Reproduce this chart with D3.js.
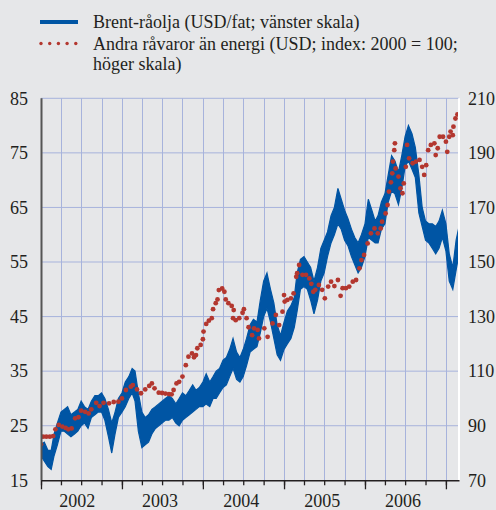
<!DOCTYPE html>
<html>
<head>
<meta charset="utf-8">
<script src="https://cdn.jsdelivr.net/npm/d3@7"></script>
<style>
  body { margin: 0; background: #e6e7e9; }
  svg { display: block; }
  text { font-family: "Liberation Serif", "Times New Roman", serif; fill: #231f20; }
</style>
</head>
<body>
<div id="chart"></div>
<script>
// Brent crude (USD/barrel), semi-monthly low / high envelope of the daily series
const brentDates = [
  "2002-01-01","2002-01-16","2002-02-01","2002-02-16","2002-03-01","2002-03-16","2002-04-01","2002-04-16","2002-05-01","2002-05-16","2002-06-01","2002-06-16",
  "2002-07-01","2002-07-16","2002-08-01","2002-08-16","2002-09-01","2002-09-16","2002-10-01","2002-10-16","2002-11-01","2002-11-16","2002-12-01","2002-12-16",
  "2003-01-01","2003-01-16","2003-02-01","2003-02-16","2003-03-01","2003-03-16","2003-04-01","2003-04-16","2003-05-01","2003-05-16","2003-06-01","2003-06-16",
  "2003-07-01","2003-07-16","2003-08-01","2003-08-16","2003-09-01","2003-09-16","2003-10-01","2003-10-16","2003-11-01","2003-11-16","2003-12-01","2003-12-16",
  "2004-01-01","2004-01-16","2004-02-01","2004-02-16","2004-03-01","2004-03-16","2004-04-01","2004-04-16","2004-05-01","2004-05-16","2004-06-01","2004-06-16",
  "2004-07-01","2004-07-16","2004-08-01","2004-08-16","2004-09-01","2004-09-16","2004-10-01","2004-10-16","2004-11-01","2004-11-16","2004-12-01","2004-12-16",
  "2005-01-01","2005-01-16","2005-02-01","2005-02-16","2005-03-01","2005-03-16","2005-04-01","2005-04-16","2005-05-01","2005-05-16","2005-06-01","2005-06-16",
  "2005-07-01","2005-07-16","2005-08-01","2005-08-16","2005-09-01","2005-09-16","2005-10-01","2005-10-16","2005-11-01","2005-11-16","2005-12-01","2005-12-16",
  "2006-01-01","2006-01-16","2006-02-01","2006-02-16","2006-03-01","2006-03-16","2006-04-01","2006-04-16","2006-05-01","2006-05-16","2006-06-01","2006-06-16",
  "2006-07-01","2006-07-16","2006-08-01","2006-08-16","2006-09-01","2006-09-16","2006-10-01","2006-10-16","2006-11-01","2006-11-16","2006-12-01","2006-12-16",
  "2007-01-01","2007-01-16","2007-02-01","2007-02-16","2007-03-01"
];
const brentLow = [
  19.5,18.5,17.5,17.0,19.5,21.5,24.0,24.0,23.5,23.0,23.5,24.0,25.0,25.5,24.5,26.5,27.0,27.5,27.5,26.0,23.0,20.0,23.5,26.5,
  27.5,28.5,30.0,31.0,29.5,24.0,21.0,21.5,22.0,23.5,24.5,25.0,25.5,26.0,26.0,26.5,25.5,25.0,26.0,26.5,27.0,27.5,28.0,28.5,
  28.5,29.0,28.5,30.0,30.0,31.0,32.0,32.5,34.0,35.5,33.5,33.0,34.0,36.0,38.5,39.0,39.5,42.0,45.0,46.5,44.0,41.0,38.0,37.0,
  39.0,40.0,41.0,43.0,46.0,50.0,50.5,50.0,48.0,45.5,48.0,51.5,53.0,56.0,58.5,60.0,62.0,61.0,59.0,58.0,56.0,54.5,53.0,54.0,
  56.0,59.5,59.0,58.5,58.5,61.0,62.0,66.0,68.0,67.5,65.5,68.5,72.5,73.5,72.0,70.5,64.0,61.5,59.0,58.5,57.5,56.5,57.5,59.5,
  57.0,51.5,50.0,53.5,56.5
];
const brentHigh = [
  21.5,22.0,20.5,20.5,23.5,25.5,27.5,28.0,28.5,27.0,27.5,28.0,29.5,28.5,28.0,29.5,30.5,30.5,31.0,30.0,28.0,25.5,27.5,30.0,
  31.0,33.0,34.0,35.5,35.0,31.0,27.5,26.5,27.0,28.0,28.5,29.0,29.5,30.0,30.5,30.0,29.0,30.0,31.0,30.5,31.5,32.5,31.5,32.0,
  33.0,34.5,33.0,34.0,35.0,35.5,37.0,37.5,39.0,41.0,38.5,37.5,39.0,41.0,43.5,44.5,44.0,48.0,51.5,53.0,50.0,47.5,43.5,41.5,
  44.0,46.0,47.0,48.5,53.0,55.5,56.0,55.0,54.0,51.5,54.0,57.5,59.0,60.5,63.5,65.0,68.5,66.5,64.5,63.0,61.0,59.5,58.5,60.0,
  62.0,66.5,64.5,62.5,63.5,66.0,67.5,71.0,74.5,73.5,71.5,74.5,78.0,80.0,78.5,76.0,71.0,65.0,62.5,62.0,62.0,61.5,62.5,64.5,
  62.0,56.5,54.0,59.0,61.5
];

// Non-energy commodities (USD; index 2000 = 100)
const indexDates = [
  "2002-01-01","2002-01-10","2002-01-25","2002-02-10","2002-02-25","2002-03-07","2002-03-22","2002-04-07","2002-04-22","2002-05-04",
  "2002-05-19","2002-06-04","2002-06-19","2002-07-01","2002-07-19","2002-08-04","2002-08-16","2002-09-07","2002-09-22","2002-10-10",
  "2002-11-04","2002-11-25","2002-12-16","2003-01-01","2003-01-19","2003-02-10","2003-02-19","2003-03-10","2003-03-28","2003-04-16",
  "2003-05-04","2003-05-16","2003-05-28","2003-06-16","2003-07-01","2003-07-16","2003-08-01","2003-08-13","2003-08-22","2003-09-04",
  "2003-09-16","2003-10-01","2003-10-16","2003-10-28","2003-11-13","2003-11-22","2003-12-01","2003-12-07","2003-12-22","2004-01-01",
  "2004-01-04","2004-01-16","2004-01-28","2004-02-10","2004-02-16","2004-02-28","2004-03-07","2004-03-13","2004-03-28","2004-04-07",
  "2004-04-13","2004-04-25","2004-05-10","2004-05-16","2004-05-19","2004-05-28","2004-06-13","2004-06-28","2004-07-04","2004-07-16",
  "2004-07-25","2004-08-10","2004-08-19","2004-09-04","2004-09-10","2004-10-04","2004-10-19","2004-11-10","2004-11-25","2004-12-10",
  "2004-12-25","2005-01-01","2005-01-04","2005-01-16","2005-02-01","2005-02-13","2005-02-25","2005-03-01","2005-03-10","2005-03-25",
  "2005-04-10","2005-04-25","2005-05-04","2005-05-13","2005-05-22","2005-06-07","2005-06-22","2005-07-04","2005-07-19","2005-08-01",
  "2005-08-16","2005-09-01","2005-09-13","2005-09-22","2005-10-07","2005-10-22","2005-11-07","2005-11-22","2005-12-07","2005-12-16",
  "2005-12-28","2006-01-13","2006-01-28","2006-02-13","2006-02-28","2006-03-13","2006-03-19","2006-04-04","2006-04-13","2006-04-19",
  "2006-04-28","2006-05-04","2006-05-07","2006-05-13","2006-05-16","2006-05-19","2006-06-01","2006-06-10","2006-06-19","2006-06-25",
  "2006-07-04","2006-07-10","2006-07-19","2006-08-04","2006-08-19","2006-09-04","2006-09-16","2006-09-25","2006-10-04","2006-10-13",
  "2006-10-25","2006-11-10","2006-11-16","2006-11-25","2006-12-04","2006-12-19","2007-01-01","2007-01-07","2007-01-16","2007-01-22",
  "2007-02-01","2007-02-04","2007-02-13","2007-02-22"
];
const indexValues = [
  83.2,86.0,86.0,86.0,86.2,88.7,90.3,89.7,89.2,88.7,
  89.0,92.7,93.1,95.5,95.1,94.5,96.0,98.4,97.2,98.4,
  98.2,98.7,98.8,100.0,103.1,104.3,104.9,103.3,101.9,103.3,
  104.6,105.5,103.7,102.1,102.0,101.8,101.6,101.5,103.1,105.5,
  106.1,108.0,112.2,115.3,116.5,115.1,115.9,118.4,119.6,121.7,
  124.5,127.3,128.5,129.4,132.7,134.9,136.3,139.7,140.3,139.1,
  136.3,134.9,133.9,129.4,132.4,128.7,129.4,131.4,132.7,129.4,
  126.1,123.2,125.7,125.1,122.0,125.7,122.6,127.5,130.6,126.9,
  131.8,137.9,135.5,136.1,136.7,138.5,144.6,145.9,148.9,145.3,
  145.3,144.0,142.0,139.1,139.8,141.6,139.8,136.7,141.0,142.8,
  141.2,143.4,137.6,140.4,140.4,141.0,142.8,143.4,147.7,150.7,
  152.6,156.8,160.5,162.3,160.5,162.3,164.8,167.8,170.9,175.8,
  179.2,182.5,186.8,191.0,193.5,184.3,181.3,177.0,175.2,178.8,
  184.9,192.9,188.0,186.2,186.8,187.4,184.9,181.9,185.5,191.0,
  192.9,193.5,189.2,191.7,195.9,195.9,194.1,190.4,195.9,197.8,
  196.5,199.6,202.6,204.1
];

const leftTicks = [15, 25, 35, 45, 55, 65, 75, 85];
const rightTicks = [70, 90, 110, 130, 150, 170, 190, 210];
const yearLabels = [2002, 2003, 2004, 2005, 2006];
const legendLabels = [
  ["Brent-råolja (USD/fat; vänster skala)"],
  ["Andra råvaror än energi (USD; index: 2000 = 100;", "höger skala)"]
];

const W = 496, H = 510;
const plotL = 41, plotR = 459, plotT = 98.3, plotB = 480.3;
const parse = d3.timeParse("%Y-%m-%d");

const x = d3.scaleTime()
  .domain([new Date(2002, 0, 1), new Date(2007, 2, 1)])
  .range([plotL, plotR]);
const yL = d3.scaleLinear().domain([15, 85]).range([plotB, plotT]);
const yR = d3.scaleLinear().domain([70, 210]).range([plotB, plotT]);

const brent = brentDates.map((d, i) => ({ date: parse(d), lo: brentLow[i], hi: brentHigh[i] }));
const index = indexDates.map((d, i) => ({ date: parse(d), v: indexValues[i] }));

const svg = d3.select('#chart').append('svg')
  .attr('width', W)
  .attr('height', H);

svg.append('rect').attr('width', W).attr('height', H).attr('fill', '#e6e7e9');

svg.append('clipPath').attr('id', 'plot')
  .append('rect')
  .attr('x', plotL).attr('y', plotT - 2)
  .attr('width', plotR - plotL).attr('height', plotB - plotT + 2);

// grid
const quarters = d3.timeMonth.every(3).range(new Date(2002, 3, 1), new Date(2007, 1, 1));
const grid = svg.append('g').attr('stroke', '#a7b3dc').attr('stroke-width', 1);
grid.selectAll('line.v').data(quarters).join('line')
  .attr('class', 'v')
  .attr('x1', d => Math.round(x(d)) + 0.5).attr('x2', d => Math.round(x(d)) + 0.5)
  .attr('y1', plotT).attr('y2', plotB);
grid.selectAll('line.h').data(leftTicks.filter(t => t > 15)).join('line')
  .attr('class', 'h')
  .attr('x1', plotL).attr('x2', plotR)
  .attr('y1', d => yL(d)).attr('y2', d => yL(d));

// series
const plot = svg.append('g').attr('clip-path', 'url(#plot)');
plot.append('path')
  .datum(brent)
  .attr('d', d3.area().x(d => x(d.date)).y0(d => yL(d.lo)).y1(d => yL(d.hi)))
  .attr('fill', '#0055a4')
  .attr('stroke', '#0055a4')
  .attr('stroke-width', 1.2)
  .attr('stroke-linejoin', 'miter');

plot.selectAll('circle').data(index).join('circle')
  .attr('cx', d => x(d.date))
  .attr('cy', d => yR(d.v))
  .attr('r', 2.4)
  .attr('fill', '#b3372f');

// axes frame
svg.append('line')
  .attr('x1', plotL + 0.5).attr('x2', plotL + 0.5)
  .attr('y1', plotT).attr('y2', plotB)
  .attr('stroke', '#555').attr('stroke-width', 2);
svg.append('line')
  .attr('x1', plotR).attr('x2', plotR)
  .attr('y1', plotT).attr('y2', plotB)
  .attr('stroke', '#ffffff').attr('stroke-width', 2);

// bottom axis: long ticks at years, short at quarters
const years = d3.timeYear.range(new Date(2002, 0, 1), new Date(2007, 1, 1));
svg.append('g')
  .attr('transform', `translate(0,${plotB})`)
  .call(d3.axisBottom(x).tickValues(d3.timeMonth.every(3).range(new Date(2002, 0, 1), new Date(2007, 1, 1)))
    .tickSize(5).tickFormat('').tickSizeOuter(0))
  .call(g => g.select('.domain').attr('stroke', '#231f20').attr('stroke-width', 1.5))
  .call(g => g.selectAll('.tick line').attr('stroke', '#231f20').attr('stroke-width', 1.3));
svg.append('g')
  .attr('transform', `translate(0,${plotB})`)
  .call(d3.axisBottom(x).tickValues(years).tickSize(9).tickFormat('').tickSizeOuter(0))
  .call(g => g.select('.domain').remove())
  .call(g => g.selectAll('.tick line').attr('stroke', '#231f20').attr('stroke-width', 1.3));

svg.append('g').selectAll('text').data(yearLabels).join('text')
  .attr('x', (d, i) => x(new Date(d, 6, 1)) - (i === 0 ? 4 : 2))
  .attr('y', 507)
  .attr('text-anchor', 'middle')
  .attr('font-size', 18)
  .text(d => d);

// left axis labels
svg.append('g')
  .attr('transform', `translate(${plotL},0)`)
  .call(d3.axisLeft(yL).tickValues(leftTicks).tickSize(0).tickPadding(13))
  .call(g => g.select('.domain').remove())
  .call(g => g.selectAll('text').attr('font-size', 18).attr('font-family', '"Liberation Serif", serif').attr('fill', '#231f20'));

// right axis labels
svg.append('g')
  .attr('transform', `translate(${plotR},0)`)
  .call(d3.axisRight(yR).tickValues(rightTicks).tickSize(0).tickPadding(9))
  .call(g => g.select('.domain').remove())
  .call(g => g.selectAll('text').attr('font-size', 18).attr('font-family', '"Liberation Serif", serif').attr('fill', '#231f20'));

// legend
const lg = svg.append('g');
lg.append('line')
  .attr('x1', 40).attr('x2', 78).attr('y1', 22).attr('y2', 22)
  .attr('stroke', '#0055a4').attr('stroke-width', 4);
lg.selectAll('circle').data(d3.range(5)).join('circle')
  .attr('cx', i => 41 + i * 8.7).attr('cy', 43.5).attr('r', 1.7)
  .attr('fill', '#b3372f');
lg.append('text').attr('x', 93).attr('y', 28.3).attr('font-size', 18).text(legendLabels[0][0]);
lg.append('text').attr('y', 49.5).attr('font-size', 18)
  .selectAll('tspan').data(legendLabels[1]).join('tspan')
  .attr('x', 93)
  .attr('dy', (d, i) => i === 0 ? 0 : 20.8)
  .text(d => d);
</script>
</body>
</html>
